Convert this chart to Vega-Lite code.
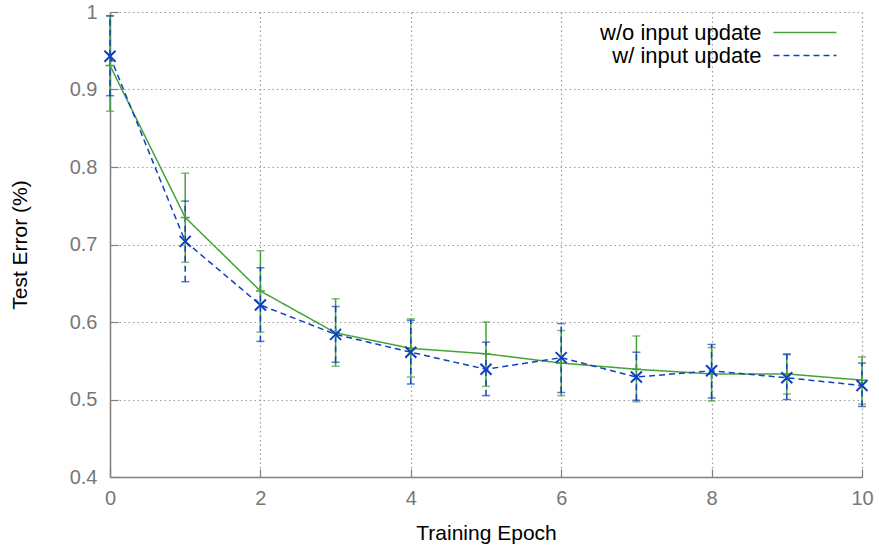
{
  "$schema": "https://vega.github.io/schema/vega-lite/v6.json",
  "width": 752,
  "height": 465,
  "autosize": {"type": "none"},
  "padding": {"left": 110, "top": 12, "right": 17, "bottom": 72},
  "background": "white",
  "config": {
    "view": {"stroke": null},
    "font": "Liberation Sans",
    "axis": {
      "labelFont": "Liberation Sans",
      "titleFont": "Liberation Sans",
      "labelFontSize": 20,
      "titleFontSize": 21,
      "labelColor": "#777777",
      "titleColor": "#000000",
      "titleFontWeight": "normal",
      "labelFlush": false,
      "domainColor": "#808080",
      "domainWidth": 1.5,
      "tickColor": "#808080",
      "tickWidth": 1.2,
      "tickSize": -8,
      "gridColor": "#9a9a9a",
      "gridDash": [1.5, 3],
      "gridWidth": 1.2,
      "gridOpacity": 1
    }
  },
  "data": {
    "values": [
      {"epoch": 0, "series": "w/o input update", "mean": 0.931, "lo": 0.872, "hi": 0.995},
      {"epoch": 1, "series": "w/o input update", "mean": 0.735, "lo": 0.677, "hi": 0.792},
      {"epoch": 2, "series": "w/o input update", "mean": 0.640, "lo": 0.587, "hi": 0.692},
      {"epoch": 3, "series": "w/o input update", "mean": 0.586, "lo": 0.543, "hi": 0.630},
      {"epoch": 4, "series": "w/o input update", "mean": 0.566, "lo": 0.529, "hi": 0.604},
      {"epoch": 5, "series": "w/o input update", "mean": 0.559, "lo": 0.517, "hi": 0.600},
      {"epoch": 6, "series": "w/o input update", "mean": 0.547, "lo": 0.505, "hi": 0.589},
      {"epoch": 7, "series": "w/o input update", "mean": 0.539, "lo": 0.497, "hi": 0.582},
      {"epoch": 8, "series": "w/o input update", "mean": 0.533, "lo": 0.498, "hi": 0.567},
      {"epoch": 9, "series": "w/o input update", "mean": 0.533, "lo": 0.507, "hi": 0.559},
      {"epoch": 10, "series": "w/o input update", "mean": 0.525, "lo": 0.494, "hi": 0.555},
      {"epoch": 0, "series": "w/ input update", "mean": 0.943, "lo": 0.892, "hi": 0.995},
      {"epoch": 1, "series": "w/ input update", "mean": 0.704, "lo": 0.652, "hi": 0.756},
      {"epoch": 2, "series": "w/ input update", "mean": 0.622, "lo": 0.575, "hi": 0.670},
      {"epoch": 3, "series": "w/ input update", "mean": 0.584, "lo": 0.548, "hi": 0.620},
      {"epoch": 4, "series": "w/ input update", "mean": 0.561, "lo": 0.520, "hi": 0.602},
      {"epoch": 5, "series": "w/ input update", "mean": 0.539, "lo": 0.505, "hi": 0.574},
      {"epoch": 6, "series": "w/ input update", "mean": 0.554, "lo": 0.509, "hi": 0.598},
      {"epoch": 7, "series": "w/ input update", "mean": 0.529, "lo": 0.499, "hi": 0.561},
      {"epoch": 8, "series": "w/ input update", "mean": 0.537, "lo": 0.502, "hi": 0.571},
      {"epoch": 9, "series": "w/ input update", "mean": 0.528, "lo": 0.500, "hi": 0.558},
      {"epoch": 10, "series": "w/ input update", "mean": 0.518, "lo": 0.491, "hi": 0.547}
    ]
  },
  "encoding": {
    "x": {
      "field": "epoch",
      "type": "quantitative",
      "scale": {"domain": [0, 10], "nice": false},
      "axis": {"title": "Training Epoch", "values": [0, 2, 4, 6, 8, 10], "labelPadding": 19, "titlePadding": 14, "grid": true}
    }
  },
  "layer": [
    {
      "transform": [{"filter": "datum.series === 'w/o input update'"}],
      "mark": {"type": "rule", "color": "#44a336", "strokeWidth": 1.5},
      "encoding": {
        "y": {
          "field": "lo",
          "type": "quantitative",
          "scale": {"domain": [0.4, 1], "nice": false, "zero": false},
          "axis": {"title": "Test Error (%)", "values": [0.4, 0.5, 0.6, 0.7, 0.8, 0.9, 1], "format": "~g", "labelPadding": 21, "titlePadding": 39, "grid": true}
        },
        "y2": {"field": "hi"}
      }
    },
    {
      "transform": [{"filter": "datum.series === 'w/o input update'"}],
      "mark": {"type": "tick", "orient": "horizontal", "color": "#44a336", "size": 8, "thickness": 1.5},
      "encoding": {"y": {"field": "lo", "type": "quantitative"}}
    },
    {
      "transform": [{"filter": "datum.series === 'w/o input update'"}],
      "mark": {"type": "tick", "orient": "horizontal", "color": "#44a336", "size": 8, "thickness": 1.5},
      "encoding": {"y": {"field": "hi", "type": "quantitative"}}
    },
    {
      "transform": [{"filter": "datum.series === 'w/ input update'"}],
      "mark": {"type": "rule", "color": "#1040c0", "strokeWidth": 1.5, "strokeDash": [6, 4]},
      "encoding": {
        "y": {"field": "lo", "type": "quantitative"},
        "y2": {"field": "hi"}
      }
    },
    {
      "transform": [{"filter": "datum.series === 'w/ input update'"}],
      "mark": {"type": "tick", "orient": "horizontal", "color": "#1040c0", "size": 8, "thickness": 1.5},
      "encoding": {"y": {"field": "lo", "type": "quantitative"}}
    },
    {
      "transform": [{"filter": "datum.series === 'w/ input update'"}],
      "mark": {"type": "tick", "orient": "horizontal", "color": "#1040c0", "size": 8, "thickness": 1.5},
      "encoding": {"y": {"field": "hi", "type": "quantitative"}}
    },
    {
      "mark": {"type": "line", "strokeWidth": 1.5},
      "encoding": {
        "y": {"field": "mean", "type": "quantitative"},
        "color": {
          "field": "series",
          "type": "nominal",
          "scale": {"domain": ["w/o input update", "w/ input update"], "range": ["#44a336", "#1040c0"]},
          "legend": {
            "title": null,
            "orient": "none",
            "legendX": 683.5,
            "legendY": 9,
            "padding": 0,
            "symbolType": "M-3,0L3,0",
            "symbolSize": 441,
            "symbolStrokeWidth": 1.5,
            "symbolOpacity": 1,
            "labelAlign": "right",
            "labelOffset": -55,
            "labelFontSize": 22,
            "labelFont": "Liberation Sans",
            "labelColor": "#000000",
            "rowPadding": -7,
            "labelLimit": 400
          }
        },
        "strokeDash": {
          "field": "series",
          "type": "nominal",
          "scale": {"domain": ["w/o input update", "w/ input update"], "range": [[1, 0], [6, 4]]},
          "legend": {
            "title": null,
            "orient": "none",
            "legendX": 683.5,
            "legendY": 9,
            "padding": 0,
            "symbolType": "M-3,0L3,0",
            "symbolSize": 441,
            "symbolStrokeWidth": 1.5,
            "symbolOpacity": 1,
            "labelAlign": "right",
            "labelOffset": -55,
            "labelFontSize": 22,
            "labelFont": "Liberation Sans",
            "labelColor": "#000000",
            "rowPadding": -7,
            "labelLimit": 400
          }
        }
      }
    },
    {
      "transform": [{"filter": "datum.series === 'w/o input update'"}],
      "mark": {"type": "point", "shape": "M-1,0L1,0M0,-1L0,1", "filled": false, "color": "#44a336", "strokeWidth": 1.5, "size": 81, "opacity": 1},
      "encoding": {"y": {"field": "mean", "type": "quantitative"}}
    },
    {
      "transform": [{"filter": "datum.series === 'w/ input update'"}],
      "mark": {"type": "point", "shape": "M-1,-1L1,1M-1,1L1,-1", "filled": false, "color": "#1040c0", "strokeWidth": 2, "size": 121, "opacity": 1},
      "encoding": {"y": {"field": "mean", "type": "quantitative"}}
    }
  ]
}
